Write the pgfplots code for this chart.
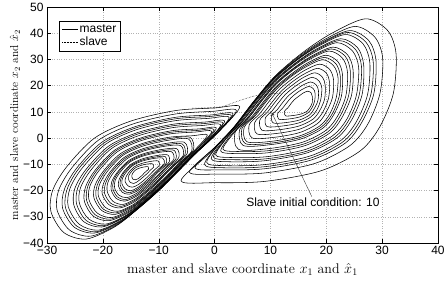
\documentclass[border=0pt]{standalone}
\usepackage{fontspec}
\usepackage{pgfplots}
\pgfplotsset{compat=1.18}
\usetikzlibrary{arrows.meta}
\newfontfamily\hv{Liberation Sans}
\begin{document}
\begin{tikzpicture}
\begin{axis}[
 width=391pt, height=236pt, scale only axis,
 xmin=-30, xmax=40, ymin=-40, ymax=50,
 xtick={-30,-20,...,40}, ytick={-40,-30,...,50},
 xticklabels={−30,−20,−10,0,10,20,30,40},
 yticklabels={−40,−30,−20,−10,0,10,20,30,40,50},
 tick align=inside, major tick length=4pt,
 tick style={black, line width=0.4pt},
 ticklabel style={font=\hv\fontsize{12}{12}\selectfont},
 grid=major, grid style={dotted, gray!60, line width=0.4pt},
 axis line style={black, line width=0.5pt},
 xlabel={master and slave coordinate $x_1$ and $\hat{x}_1$},
 ylabel={master and slave coordinate $x_2$ and $\hat{x}_2$},
 xlabel style={font=\fontsize{14}{15}\selectfont, at={(axis description cs:0.5,-0.113)}, anchor=center},
 ylabel style={font=\fontsize{11.5}{13}\selectfont, at={(axis description cs:-0.082,0.5)}, anchor=center},
 legend style={at={(0.031,0.941)}, anchor=north west, draw=black, line width=0.4pt, fill=white,
   font=\hv\fontsize{12}{12}\selectfont, inner sep=2.5pt, nodes={inner sep=1.3pt}, cells={anchor=west}},
 legend image code/.code={\draw[#1] (0pt,0pt) -- (16pt,0pt);},
 loop/.style={black, line width=0.55pt, smooth cycle, mark=none, forget plot},
]
\addlegendimage{black, solid, line width=0.5pt}
\addlegendentry{master}
\addlegendimage{black, densely dotted, line width=0.5pt}
\addlegendentry{slave}
% right wing
\addplot[loop] coordinates {(12.5,10.2)(13.1,11.5)(13.7,13.2)(14.3,14.7)(15.1,16)(15.8,17.1)(16.7,17.9)(17.3,17.2)(17.5,15.9)(17.5,13.6)(17.1,11.7)(16.6,10.3)(15.5,9.2)(14,8.6)(12.7,8.5)};
\addplot[loop] coordinates {(11.3,9.4)(12.1,11.2)(12.9,13.4)(13.7,15.4)(14.7,17.2)(15.7,18.6)(16.9,19.7)(17.7,18.8)(18,17)(17.9,14)(17.4,11.4)(16.7,9.6)(15.3,8.1)(13.3,7.3)(11.5,7.2)};
\addplot[loop] coordinates {(10.2,8.6)(11.2,10.8)(12.2,13.6)(13.2,16.1)(14.5,18.3)(15.7,20.1)(17.2,21.4)(18.2,20.3)(18.6,18.1)(18.5,14.3)(17.8,11.1)(17,8.8)(15.2,6.9)(12.7,5.9)(10.5,5.8)};
\addplot[loop] coordinates {(9.1,7.7)(10.3,10.4)(11.5,13.7)(12.7,16.7)(14.2,19.4)(15.7,21.5)(17.5,23.2)(18.7,21.8)(19.2,19.1)(19,14.6)(18.3,10.7)(17.2,8)(15.1,5.8)(12.1,4.6)(9.4,4.4)};
\addplot[loop] coordinates {(8.1,6.9)(9.5,10)(10.9,13.9)(12.3,17.4)(14.1,20.5)(15.8,23)(17.9,24.9)(19.3,23.3)(19.8,20.2)(19.7,14.9)(18.8,10.4)(17.6,7.2)(15.1,4.6)(11.6,3.2)(8.5,3)};
\addplot[loop] coordinates {(7.2,6)(8.8,9.6)(10.4,14)(12,18)(14,21.6)(16,24.4)(18.4,26.6)(20,24.8)(20.6,21.2)(20.4,15.2)(19.4,10)(18,6.4)(15.2,3.4)(11.2,1.8)(7.6,1.6)};
\addplot[loop] coordinates {(6.2,5.1)(8,9.1)(9.8,14.1)(11.6,18.6)(13.9,22.6)(16.1,25.8)(18.8,28.2)(20.6,26.2)(21.3,22.2)(21.1,15.4)(19.9,9.6)(18.4,5.5)(15.2,2.1)(10.7,0.3)(6.7,0.1)};
\addplot[loop] coordinates {(5.3,4.1)(7.3,8.6)(9.3,14.1)(11.3,19.1)(13.8,23.6)(16.3,27.1)(19.3,29.9)(21.3,27.6)(22.1,23.1)(21.8,15.6)(20.6,9.1)(18.8,4.6)(15.3,0.9)(10.3,-1.2)(5.8,-1.4)};
\addplot[loop] coordinates {(4.9,3.7)(7,8.4)(9.1,14.2)(11.2,19.5)(13.9,24.2)(16.5,27.9)(19.6,30.8)(21.7,28.4)(22.5,23.7)(22.3,15.8)(21,9)(19.1,4.2)(15.4,0.3)(10.2,-1.9)(5.5,-2.1)};
\addplot[loop] coordinates {(4.5,3.3)(6.7,8.2)(8.9,14.3)(11.1,19.8)(13.9,24.7)(16.6,28.6)(19.9,31.6)(22.1,29.1)(22.9,24.2)(22.7,15.9)(21.3,8.8)(19.4,3.8)(15.5,-0.3)(10,-2.5)(5.1,-2.8)};
\addplot[loop] coordinates {(3.7,2.3)(6.1,7.7)(8.5,14.3)(10.9,20.3)(13.9,25.7)(16.9,29.9)(20.5,33.2)(22.9,30.5)(23.8,25.1)(23.5,16.1)(22,8.3)(19.9,2.9)(15.7,-1.6)(9.7,-4)(4.3,-4.3)};
\addplot[loop] coordinates {(1.5,-4.2)(3.4,1.8)(5.9,7.4)(8.4,14.3)(10.9,20.6)(14,26.2)(17.1,30.6)(20.9,34)(23.4,31.2)(24.3,25.6)(24,16.2)(22.4,8.1)(20.3,2.4)(15.9,-2.3)(9.6,-4.8)(4,-5.1)};
\addplot[loop] coordinates {(1.1,-4.9)(3,1.3)(5.6,7.1)(8.2,14.3)(10.8,20.8)(14.1,26.6)(17.3,31.2)(21.2,34.7)(23.8,31.8)(24.8,26)(24.5,16.2)(22.8,7.8)(20.6,1.9)(16,-3)(9.5,-5.6)(3.7,-5.9)};
\addplot[loop] coordinates {(0.2,-6.4)(2.3,0.3)(5.1,6.6)(7.9,14.3)(10.7,21.3)(14.2,27.6)(17.7,32.5)(21.9,36.4)(24.7,33.2)(25.8,26.9)(25.4,16.4)(23.7,7.3)(21.2,1)(16.3,-4.3)(9.3,-7.1)(3,-7.4)};
\addplot[loop] coordinates {(-0.2,-7.2)(2,-0.3)(4.9,6.3)(7.8,14.3)(10.7,21.6)(14.3,28.1)(17.9,33.2)(22.3,37.2)(25.2,33.9)(26.3,27.4)(25.9,16.5)(24.1,7.1)(21.6,0.5)(16.5,-5)(9.2,-7.9)(2.7,-8.2)};
\addplot[loop] coordinates {(-0.6,-7.9)(1.6,-0.8)(4.6,6)(7.6,14.3)(10.6,21.8)(14.4,28.5)(18.1,33.8)(22.6,37.9)(25.6,34.5)(26.7,27.8)(26.4,16.5)(24.5,6.8)(21.9,0)(16.6,-5.6)(9.1,-8.6)(2.4,-9)};
\addplot[loop] coordinates {(-1.4,-9.3)(1,-1.7)(4.2,5.5)(7.4,14.3)(10.6,22.3)(14.6,29.5)(18.6,35.1)(23.4,39.5)(26.6,35.9)(27.8,28.7)(27.4,16.7)(25.4,6.3)(22.6,-0.9)(17,-6.9)(9,-10.1)(1.8,-10.5)};
\addplot[loop] coordinates {(-1.8,-10.1)(0.7,-2.3)(4,5.2)(7.3,14.3)(10.6,22.6)(14.8,30)(18.9,35.8)(23.8,40.3)(27.1,36.6)(28.4,29.2)(28,16.8)(25.9,6.1)(23,-1.4)(17.2,-7.6)(9,-10.9)(1.6,-11.3)};
\addplot[loop] coordinates {(-3.5,-11.3)(0.4,-2.8)(3.8,4.9)(7.2,14.3)(10.6,22.8)(14.9,30.4)(19.1,36.4)(24.2,41)(27.6,37.2)(28.9,29.6)(28.5,16.8)(26.3,5.8)(23.4,-1.9)(17.4,-8.3)(8.9,-11.7)(1.3,-12.1)};
\addplot[loop] coordinates {(-4.5,-13)(-0.1,-3.8)(3.5,4.3)(7.1,14.2)(10.7,23.2)(15.2,31.3)(19.7,37.6)(25.1,42.6)(28.7,38.5)(30.1,30.4)(29.6,16.9)(27.4,5.2)(24.2,-2.9)(17.9,-9.7)(8.9,-13.3)(0.8,-13.7)};
\addplot[loop] coordinates {(-6,-16.3)(-1,-6)(3,3)(7,14)(11,24)(16,33)(21,40)(27,45.5)(31,41)(32.5,32)(32,17)(29.5,4)(26,-5)(19,-12.5)(9,-16.5)(0,-17)};
% left wing
\addplot[loop] coordinates {(-11.8,-11.8)(-12.2,-12.6)(-12.6,-13.3)(-12.9,-14.1)(-13.3,-14.8)(-13.7,-15.5)(-14.2,-15.9)(-14.6,-15.7)(-14.8,-14.9)(-14.8,-14.1)(-14.6,-13.2)(-14.1,-12.1)(-13.4,-11.4)(-12.6,-11)(-11.9,-10.9)};
\addplot[loop] coordinates {(-10.9,-11)(-11.5,-12.2)(-12,-13.4)(-12.6,-14.5)(-13.2,-15.6)(-13.8,-16.6)(-14.5,-17.3)(-15.1,-16.9)(-15.4,-15.7)(-15.4,-14.5)(-15,-13.1)(-14.3,-11.5)(-13.3,-10.5)(-12.1,-9.9)(-11.1,-9.8)};
\addplot[loop] coordinates {(-9.9,-10.4)(-10.7,-12)(-11.4,-13.5)(-12.1,-15)(-12.9,-16.5)(-13.7,-17.8)(-14.7,-18.7)(-15.5,-18.2)(-16,-16.6)(-15.9,-15)(-15.4,-13.2)(-14.4,-11)(-13.1,-9.7)(-11.5,-8.9)(-10.1,-8.7)};
\addplot[loop] coordinates {(-9,-9.7)(-10,-11.7)(-10.9,-13.6)(-11.8,-15.4)(-12.8,-17.3)(-13.8,-18.9)(-15,-20.1)(-16,-19.4)(-16.6,-17.4)(-16.5,-15.4)(-15.9,-13.2)(-14.6,-10.4)(-13,-8.8)(-11,-7.8)(-9.3,-7.6)};
\addplot[loop] coordinates {(-8.6,-9.4)(-9.7,-11.6)(-10.7,-13.6)(-11.6,-15.7)(-12.7,-17.7)(-13.8,-19.5)(-15.2,-20.8)(-16.3,-20.1)(-16.9,-17.9)(-16.8,-15.7)(-16.2,-13.2)(-14.8,-10.2)(-13,-8.4)(-10.8,-7.3)(-8.9,-7)};
\addplot[loop] coordinates {(-8.1,-9)(-9.3,-11.4)(-10.4,-13.6)(-11.4,-15.9)(-12.6,-18.1)(-13.8,-20.1)(-15.3,-21.4)(-16.5,-20.7)(-17.2,-18.3)(-17.1,-15.9)(-16.4,-13.2)(-14.9,-9.9)(-12.9,-7.9)(-10.5,-6.7)(-8.4,-6.4)};
\addplot[loop] coordinates {(-7.3,-8.1)(-8.7,-10.9)(-9.9,-13.6)(-11.2,-16.2)(-12.6,-18.8)(-14,-21.1)(-15.7,-22.7)(-17.1,-21.8)(-17.9,-19)(-17.8,-16.2)(-16.9,-13)(-15.2,-9.2)(-12.9,-6.9)(-10.1,-5.5)(-7.7,-5.2)};
\addplot[loop] coordinates {(-6.9,-7.8)(-8.4,-10.8)(-9.7,-13.6)(-11,-16.4)(-12.5,-19.2)(-14,-21.7)(-15.9,-23.4)(-17.4,-22.4)(-18.2,-19.4)(-18.1,-16.4)(-17.2,-13)(-15.3,-8.9)(-12.9,-6.5)(-9.9,-5)(-7.3,-4.6)};
\addplot[loop] coordinates {(-6.4,-7.4)(-8,-10.6)(-9.4,-13.6)(-10.8,-16.6)(-12.4,-19.6)(-14,-22.2)(-16,-24)(-17.6,-23)(-18.5,-19.8)(-18.4,-16.6)(-17.4,-13)(-15.4,-8.6)(-12.8,-6)(-9.6,-4.4)(-6.8,-4)};
\addplot[loop] coordinates {(-5.6,-6.6)(-7.4,-10.2)(-9,-13.6)(-10.6,-16.9)(-12.4,-20.3)(-14.2,-23.2)(-16.4,-25.3)(-18.2,-24.1)(-19.2,-20.5)(-19.1,-16.9)(-18,-12.9)(-15.7,-7.9)(-12.8,-5)(-9.2,-3.2)(-6.1,-2.8)};
\addplot[loop] coordinates {(-5.3,-6.3)(-7.2,-10.1)(-8.9,-13.6)(-10.5,-17.2)(-12.4,-20.7)(-14.3,-23.8)(-16.7,-26)(-18.6,-24.8)(-19.7,-21)(-19.5,-17.2)(-18.4,-12.9)(-16,-7.7)(-12.9,-4.6)(-9.1,-2.7)(-5.8,-2.2)};
\addplot[loop] coordinates {(-4.9,-5.9)(-6.9,-9.9)(-8.7,-13.6)(-10.4,-17.4)(-12.4,-21.1)(-14.4,-24.4)(-16.9,-26.6)(-18.9,-25.4)(-20.1,-21.4)(-19.9,-17.4)(-18.7,-12.9)(-16.2,-7.4)(-12.9,-4.1)(-8.9,-2.1)(-5.4,-1.6)};
\addplot[loop] coordinates {(-4.1,-5)(-6.3,-9.4)(-8.2,-13.6)(-10.2,-17.7)(-12.4,-21.8)(-14.6,-25.4)(-17.3,-27.9)(-19.5,-26.5)(-20.8,-22.1)(-20.6,-17.7)(-19.2,-12.7)(-16.5,-6.7)(-12.9,-3.1)(-8.5,-0.9)(-4.7,-0.3)};
\addplot[loop] coordinates {(-3.8,-4.6)(-6.1,-9.2)(-8.1,-13.6)(-10.1,-17.9)(-12.4,-22.2)(-14.7,-25.9)(-17.6,-28.5)(-19.9,-27.1)(-21.2,-22.5)(-21,-17.9)(-19.6,-12.7)(-16.7,-6.4)(-13,-2.6)(-8.4,-0.3)(-4.4,0.3)};
\addplot[loop] coordinates {(-1.3,1.2)(-3.4,-4.2)(-5.8,-9)(-7.9,-13.5)(-10,-18)(-12.4,-22.5)(-14.8,-26.4)(-17.8,-29.1)(-20.2,-27.6)(-21.6,-22.8)(-21.4,-18)(-19.9,-12.6)(-16.9,-6)(-13,-2.1)(-8.2,0.3)(-4,0.9)};
\addplot[loop] coordinates {(-0.5,2.6)(-2.8,-3.3)(-5.4,-8.5)(-7.7,-13.4)(-10,-18.2)(-12.6,-23.1)(-15.2,-27.3)(-18.4,-30.3)(-21,-28.6)(-22.5,-23.4)(-22.3,-18.2)(-20.7,-12.4)(-17.4,-5.2)(-13.2,-1)(-8,1.6)(-3.5,2.3)};
\addplot[loop] coordinates {(-0.1,3.3)(-2.5,-2.9)(-5.2,-8.3)(-7.6,-13.4)(-9.9,-18.4)(-12.6,-23.5)(-15.3,-27.9)(-18.7,-30.9)(-21.4,-29.2)(-22.9,-23.8)(-22.7,-18.4)(-21.1,-12.4)(-17.7,-4.9)(-13.3,-0.5)(-7.9,2.2)(-3.2,2.9)};
\addplot[loop] coordinates {(0.3,3.9)(-2.1,-2.5)(-4.9,-8.1)(-7.4,-13.3)(-9.8,-18.6)(-12.6,-23.8)(-15.4,-28.4)(-18.9,-31.5)(-21.7,-29.8)(-23.3,-24.2)(-23.1,-18.6)(-21.4,-12.3)(-17.9,-4.6)(-13.3,0)(-7.7,2.8)(-2.8,3.5)};
\addplot[loop] coordinates {(1.1,5.1)(-1.5,-1.6)(-4.5,-7.6)(-7.1,-13.3)(-9.8,-18.9)(-12.8,-24.5)(-15.8,-29.4)(-19.5,-32.8)(-22.5,-30.9)(-24.2,-24.9)(-24,-18.9)(-22.1,-12.1)(-18.4,-3.9)(-13.5,1)(-7.5,4)(-2.3,4.8)};
\addplot[loop] coordinates {(1.5,5.8)(-1.3,-1.2)(-4.4,-7.4)(-7.1,-13.2)(-9.8,-19)(-12.9,-24.8)(-16,-29.9)(-19.9,-33.4)(-23,-31.4)(-24.7,-25.2)(-24.5,-19)(-22.6,-12)(-18.7,-3.5)(-13.7,1.6)(-7.5,4.7)(-2.1,5.5)};
\addplot[loop] coordinates {(1.8,6.5)(-1,-0.7)(-4.2,-7.1)(-7,-13.1)(-9.8,-19.1)(-13,-25.1)(-16.2,-30.3)(-20.2,-33.9)(-23.4,-31.9)(-25.2,-25.5)(-25,-19.1)(-23,-11.9)(-19,-3.1)(-13.8,2.1)(-7.4,5.3)(-1.8,6.1)};
\addplot[loop] coordinates {(2.6,7.9)(-0.4,0.2)(-3.8,-6.6)(-6.8,-13)(-9.8,-19.3)(-13.2,-25.7)(-16.6,-31.2)(-20.8,-35.1)(-24.2,-32.9)(-26.2,-26.1)(-25.9,-19.3)(-23.8,-11.7)(-19.5,-2.3)(-14,3.2)(-7.2,6.6)(-1.3,7.5)};
\addplot[loop] coordinates {(3,8.6)(-0.2,0.7)(-3.7,-6.4)(-6.8,-12.9)(-9.8,-19.5)(-13.3,-26)(-16.8,-31.7)(-21.2,-35.7)(-24.7,-33.5)(-26.7,-26.5)(-26.4,-19.5)(-24.3,-11.6)(-19.9,-2)(-14.2,3.8)(-7.2,7.3)(-1.1,8.2)};
\addplot[loop] coordinates {(3.3,9.3)(0.1,1.2)(-3.5,-6.1)(-6.7,-12.8)(-9.8,-19.6)(-13.4,-26.3)(-17,-32.2)(-21.5,-36.2)(-25.1,-34)(-27.2,-26.8)(-26.9,-19.6)(-24.7,-11.5)(-20.2,-1.6)(-14.3,4.3)(-7.1,7.9)(-0.8,8.8)};
\addplot[loop] coordinates {(3.9,10.6)(0.6,2.1)(-3.2,-5.5)(-6.5,-12.7)(-9.9,-19.8)(-13.7,-26.9)(-17.5,-33.1)(-22.2,-37.4)(-26,-35)(-28.2,-27.4)(-27.9,-19.8)(-25.5,-11.2)(-20.8,-0.8)(-14.6,5.4)(-7,9.2)(-0.4,10.2)};
\addplot[loop] coordinates {(4.5,12)(1,3)(-3,-5)(-6.5,-12.5)(-10,-20)(-14,-27.5)(-18,-34)(-23,-38.5)(-27,-36)(-29.3,-28)(-29,-20)(-26.5,-11)(-21.5,0)(-15,6.5)(-7,10.5)(0,11.5)};
% slave transient
\addplot[black, densely dotted, line width=0.5pt, smooth, mark=none, forget plot] coordinates {(-4,11.4)(-1,11.6)(1.3,12)(3,13.2)(4.6,14.4)(7.2,16.1)(9.5,16.8)(12,17.2)};
% annotation
\draw[gray!40!black, line width=0.4pt, -{Stealth[length=4pt,width=3pt]}] (axis cs:17.4,-22.3) -- (axis cs:10.2,9.9);
\node[font=\hv\fontsize{12}{12}\selectfont, anchor=north, inner sep=0.5pt] at (axis cs:17.6,-22.6) {Slave initial condition: 10};
\coordinate (SW) at (rel axis cs:0,0);
\end{axis}
\pgfresetboundingbox
\path ([shift={(-47pt,-38pt)}]SW) rectangle ([shift={(398pt,243pt)}]SW);
\end{tikzpicture}
\end{document}
